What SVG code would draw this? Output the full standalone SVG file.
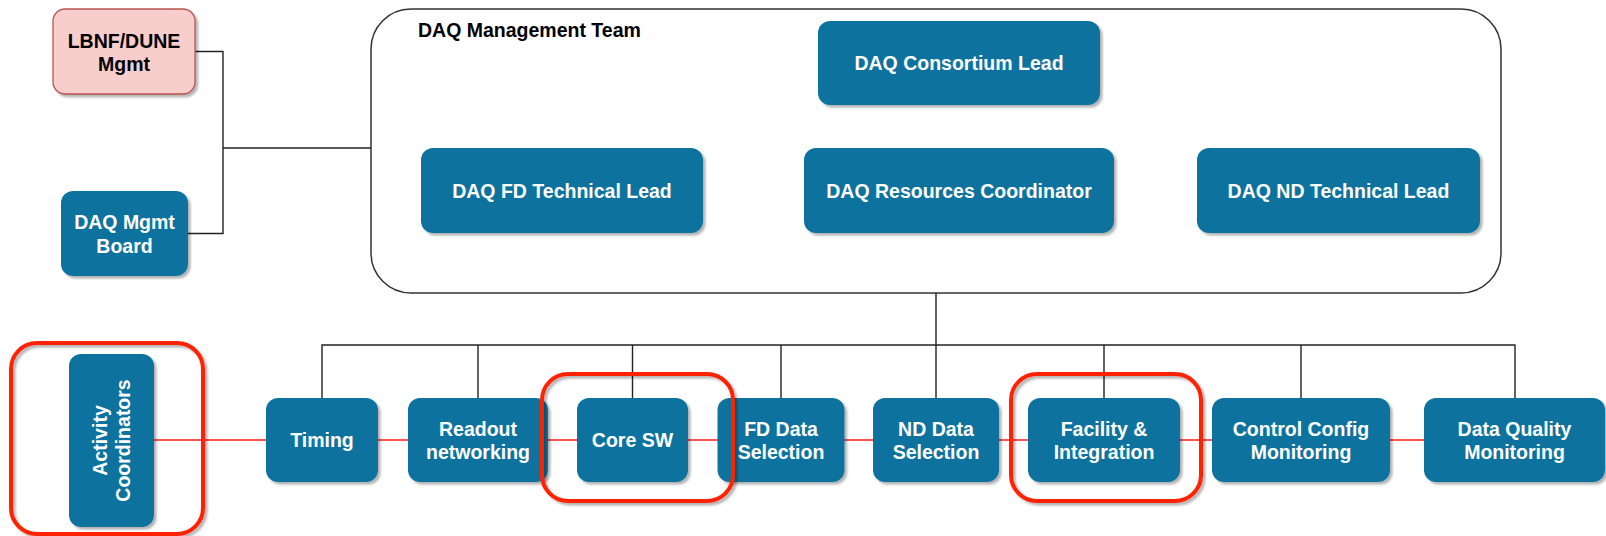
<svg xmlns="http://www.w3.org/2000/svg" width="1606" height="536" viewBox="0 0 1606 536">
  <defs>
    <filter id="shadow" x="-10%" y="-10%" width="130%" height="130%">
      <feDropShadow dx="2.5" dy="2.5" stdDeviation="1" flood-color="#000" flood-opacity="0.3"/>
    </filter>
  </defs>
  <style>
    text { font-family: "Liberation Sans", Arial, Helvetica, sans-serif; font-weight: bold; font-size: 19.5px; }
    .box { fill: #10739e; filter: url(#shadow); }
    .lbl { fill: #ffffff; text-anchor: middle; }
    .pink { fill: #f8cecc; stroke: #b85450; stroke-width: 1.3; filter: url(#shadow); }
    .dark { fill: #000000; text-anchor: middle; }
    .tree { fill: none; stroke: #222222; stroke-width: 1.4; }
    .link { fill: none; stroke: #ff1a1a; stroke-width: 1.4; }
    .mark { fill: none; stroke: #ff2200; stroke-width: 4; filter: url(#shadow); }
  </style>

  <!-- management team container -->
  <g id="mgmt-team">
    <rect x="371" y="9" width="1130" height="284" rx="40" ry="40" fill="#ffffff" stroke="#333333" stroke-width="1.5"/>
    <text x="418" y="37" fill="#000000">DAQ Management Team</text>
  </g>

  <!-- connectors -->
  <g id="connectors">
    <path class="tree" d="M195 51.5 H223 V233.5 H188"/>
    <path class="tree" d="M223 148 H371"/>
    <path class="tree" d="M936 293 V345"/>
    <path class="tree" d="M322 398 V345 H1515 V398"/>
    <path class="tree" d="M478 345 V398"/>
    <path class="tree" d="M632.5 345 V398"/>
    <path class="tree" d="M781 345 V398"/>
    <path class="tree" d="M936 345 V398"/>
    <path class="tree" d="M1104 345 V398"/>
    <path class="tree" d="M1301 345 V398"/>
    <path class="link" d="M154 440 H1424"/>
  </g>

  <g id="lbnf-dune-mgmt">
    <rect class="pink" x="53" y="9" width="142" height="85" rx="12"/>
    <text class="dark" x="124" y="47.5">LBNF/DUNE</text>
    <text class="dark" x="124" y="71">Mgmt</text>
  </g>
  <g id="daq-mgmt-board">
    <rect class="box" x="61" y="191" width="127" height="85" rx="12"/>
    <text class="lbl" x="124.5" y="229">DAQ Mgmt</text>
    <text class="lbl" x="124.5" y="252.5">Board</text>
  </g>

  <g id="consortium-lead">
    <rect class="box" x="818" y="21" width="282" height="84" rx="12"/>
    <text class="lbl" x="959" y="70">DAQ Consortium Lead</text>
  </g>
  <g id="fd-technical-lead">
    <rect class="box" x="421" y="148" width="282" height="85" rx="12"/>
    <text class="lbl" x="562" y="197.5">DAQ FD Technical Lead</text>
  </g>
  <g id="resources-coordinator">
    <rect class="box" x="804" y="148" width="310" height="85" rx="12"/>
    <text class="lbl" x="959" y="197.5">DAQ Resources Coordinator</text>
  </g>
  <g id="nd-technical-lead">
    <rect class="box" x="1197" y="148" width="283" height="85" rx="12"/>
    <text class="lbl" x="1338.5" y="197.5">DAQ ND Technical Lead</text>
  </g>

  <g id="activity-coordinators">
    <rect class="box" x="69" y="354" width="85" height="173" rx="12"/>
    <g transform="translate(111.5 440.5) rotate(-90)">
      <text class="lbl" x="0" y="-4.75">Activity</text>
      <text class="lbl" x="0" y="18.75">Coordinators</text>
    </g>
  </g>

  <g id="timing">
    <rect class="box" x="266" y="398" width="112" height="84" rx="12"/>
    <text class="lbl" x="322" y="447">Timing</text>
  </g>
  <g id="readout-networking">
    <rect class="box" x="408" y="398" width="140" height="84" rx="12"/>
    <text class="lbl" x="478" y="435.5">Readout</text>
    <text class="lbl" x="478" y="459">networking</text>
  </g>
  <g id="core-sw">
    <rect class="box" x="577" y="398" width="111" height="84" rx="12"/>
    <text class="lbl" x="632.5" y="447">Core SW</text>
  </g>
  <g id="fd-data-selection">
    <rect class="box" x="717.5" y="398" width="127" height="84" rx="12"/>
    <text class="lbl" x="781" y="435.5">FD Data</text>
    <text class="lbl" x="781" y="459">Selection</text>
  </g>
  <g id="nd-data-selection">
    <rect class="box" x="873" y="398" width="126" height="84" rx="12"/>
    <text class="lbl" x="936" y="435.5">ND Data</text>
    <text class="lbl" x="936" y="459">Selection</text>
  </g>
  <g id="facility-integration">
    <rect class="box" x="1028" y="398" width="152" height="84" rx="12"/>
    <text class="lbl" x="1104" y="435.5">Facility &amp;</text>
    <text class="lbl" x="1104" y="459">Integration</text>
  </g>
  <g id="control-config-monitoring">
    <rect class="box" x="1212" y="398" width="178" height="84" rx="12"/>
    <text class="lbl" x="1301" y="435.5">Control Config</text>
    <text class="lbl" x="1301" y="459">Monitoring</text>
  </g>
  <g id="data-quality-monitoring">
    <rect class="box" x="1424" y="398" width="181" height="84" rx="12"/>
    <text class="lbl" x="1514.5" y="435.5">Data Quality</text>
    <text class="lbl" x="1514.5" y="459">Monitoring</text>
  </g>

  <!-- highlight outlines -->
  <g id="highlights">
    <rect class="mark" x="11" y="343" width="192" height="191" rx="26"/>
    <rect class="mark" x="542" y="374" width="191" height="127" rx="26"/>
    <rect class="mark" x="1011" y="374" width="190" height="127" rx="26"/>
  </g>
</svg>
